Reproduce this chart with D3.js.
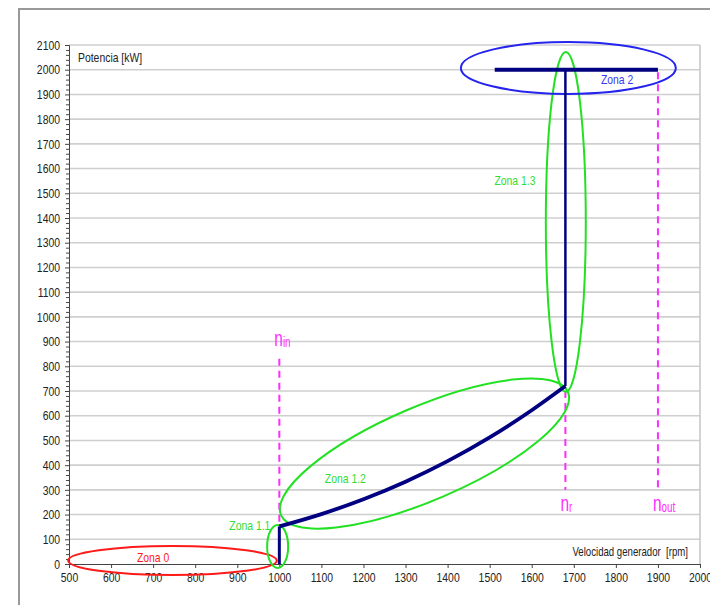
<!DOCTYPE html>
<html><head><meta charset="utf-8">
<script src="https://cdn.jsdelivr.net/npm/d3@7"></script>
<style>body{margin:0;background:#fff}svg{display:block}text{font-family:"Liberation Sans",Arial,sans-serif;white-space:pre}</style>
</head><body><div id="c"></div>
<script>
// ---- data ----
const xTicks = [500,600,700,800,900,1000,1100,1200,1300,1400,1500,1600,1700,1800,1900,2000];
const yTicks = [0,100,200,300,400,500,600,700,800,900,1000,1100,1200,1300,1400,1500,1600,1700,1800,1900,2000,2100];
// power curve (rpm, kW)
const curveRpm = [1000,1000,1100,1200,1300,1400,1500,1600,1680,1680];
const curveKw  = [0,152,202,262,333,416,512,622,720,2000];
const ratedRpm = [1512,1900];
const ratedKw  = [2000,2000];
// marker lines
const markerNames = ["in","r","out"];
const markerRpm = [1000,1680,1900];
const markerTop = [830,700,1990];
const markerBottom = [150,300,300];
// zones: center rpm, center kW, semi-axis rpm, semi-axis kW
const zoneNames = ["Zona 0","Zona 1.1","Zona 1.3","Zona 2"];
const zoneCx = [746,996,1681,1687];
const zoneCy = [14,71,1384,2007];
const zoneRx = [248,25,47.5,255.5];
const zoneRy = [59,87,688,105];
// rotated zone 1.2: tip points (rpm,kW)
const zone12Tips = [[1004,198],[1686,696]];
const zoneLabels = ["Zona 0","Zona 1.1","Zona 1.2","Zona 1.3","Zona 2"];
const zoneLabelRpm = [700,930,1157,1560,1803];
const zoneLabelKw = [28,154,348,1550,1962];

const W=710,H=605;
const svg=d3.select("#c").append("svg").attr("width",W).attr("height",H);
const x=d3.scaleLinear().domain([500,2000]).range([69,700]);
const y=d3.scaleLinear().domain([0,2100]).range([564,45]);
function narrow(sel,f){sel.each(function(){const l=this.getComputedTextLength();
  d3.select(this).attr("textLength",l*f).attr("lengthAdjust","spacingAndGlyphs");});}

// outer frame
svg.append("path").attr("d","M19,605 L19,9 L712,9").attr("fill","none").attr("stroke","#999").attr("stroke-width",2);

// grid
svg.append("g").selectAll("line").data(yTicks.slice(1)).join("line")
  .attr("x1",x(500)).attr("x2",x(2000)).attr("y1",d=>y(d)).attr("y2",d=>y(d))
  .attr("stroke","#cfcfcf").attr("stroke-width",1.6);
svg.append("line").attr("x1",x(2000)).attr("x2",x(2000)).attr("y1",y(2100)).attr("y2",y(0))
  .attr("stroke","#c8c8c8").attr("stroke-width",1.6);

// axes
const xa=svg.append("g").attr("transform",`translate(0,${y(0)})`)
  .call(d3.axisBottom(x).tickValues(xTicks).tickSize(4).tickPadding(5).tickFormat(d3.format("d")));
const ya=svg.append("g").attr("transform",`translate(${x(500)},0)`)
  .call(d3.axisLeft(y).tickValues(yTicks).tickSize(4).tickPadding(5).tickFormat(d3.format("d")));
const yMinor=d3.range(0,2100,20).filter(v=>v%100!==0);
svg.append("g").attr("transform",`translate(${x(500)},0)`)
  .call(d3.axisLeft(y).tickValues(yMinor).tickSize(3).tickFormat(""))
  .call(g=>g.select(".domain").remove());
[xa,ya].forEach(g=>{g.selectAll("text").attr("font-size",13).attr("fill","#222");
  g.selectAll("line,path").attr("stroke","#444");});
svg.selectAll(".tick line").attr("stroke","#444");
narrow(xa.selectAll("text"),0.8);
narrow(ya.selectAll("text"),0.8);

// axis titles
narrow(svg.append("text").attr("x",78).attr("y",62).attr("font-size",13).attr("fill","#222").text("Potencia [kW]"),0.8);
narrow(svg.append("text").attr("x",688).attr("y",556).attr("text-anchor","end").attr("font-size",13).attr("fill","#222").text("Velocidad generador  [rpm]"),0.74);

// marker dashed lines
const magenta="#ff2bff";
markerRpm.forEach((r,i)=>{
  svg.append("line").attr("x1",x(r)).attr("x2",x(r)).attr("y1",y(markerTop[i])).attr("y2",y(markerBottom[i]))
    .attr("stroke",magenta).attr("stroke-width",2).attr("stroke-dasharray","7,5");
});
// marker labels
const mLabelKw=[882,216,216];
markerNames.forEach((n,i)=>{
  const g=svg.append("g").attr("transform",`translate(${x(markerRpm[i])-5},${y(mLabelKw[i])}) scale(0.7,1)`);
  const t=g.append("text").attr("fill",magenta);
  t.append("tspan").attr("font-size",22).text("n");
  t.append("tspan").attr("font-size",14).attr("dy",1).text(n);
});

// zones
const green="#22e022";
const zoneColors=["#ff1a1a",green,green,"#2424ee"];
zoneNames.forEach((z,i)=>{
  svg.append("ellipse").attr("cx",x(zoneCx[i])).attr("cy",y(zoneCy[i]))
    .attr("rx",x(zoneCx[i]+zoneRx[i])-x(zoneCx[i])).attr("ry",y(zoneCy[i])-y(zoneCy[i]+zoneRy[i]))
    .attr("fill","none").attr("stroke",zoneColors[i]).attr("stroke-width",2);
});
{
  const [a,b]=zone12Tips;
  const x1=x(a[0]),y1=y(a[1]),x2=x(b[0]),y2=y(b[1]);
  const cx=(x1+x2)/2,cy=(y1+y2)/2,len=Math.hypot(x2-x1,y2-y1)/2;
  const ang=Math.atan2(y2-y1,x2-x1)*180/Math.PI;
  svg.append("ellipse").attr("cx",cx).attr("cy",cy).attr("rx",len).attr("ry",len*0.3)
    .attr("transform",`rotate(${ang},${cx},${cy})`)
    .attr("fill","none").attr("stroke",green).attr("stroke-width",2);
}

// power curve
const line=d3.line().x(d=>x(d[0])).y(d=>y(d[1])).curve(d3.curveLinear);
const pts=curveRpm.map((r,i)=>[r,curveKw[i]]);
svg.append("path").attr("d",line(pts.slice(0,2))).attr("fill","none").attr("stroke","#000080").attr("stroke-width",3);
svg.append("path").attr("d",d3.line().x(d=>x(d[0])).y(d=>y(d[1])).curve(d3.curveMonotoneX)(pts.slice(1,9)))
  .attr("fill","none").attr("stroke","#000080").attr("stroke-width",3.8);
svg.append("path").attr("d",line(pts.slice(8))).attr("fill","none").attr("stroke","#000080").attr("stroke-width",2.5);
svg.append("path").attr("d",line(ratedRpm.map((r,i)=>[r,ratedKw[i]]))).attr("fill","none").attr("stroke","#000080").attr("stroke-width",4);

// zone labels
const labelColors=["#ff1a1a","#33dd33","#33dd33","#33dd33","#3a3af0"];
zoneLabels.forEach((z,i)=>{
  narrow(svg.append("text").attr("x",x(zoneLabelRpm[i])).attr("y",y(zoneLabelKw[i])).attr("dy","0.35em")
    .attr("text-anchor","middle").attr("font-size",13).attr("fill",labelColors[i]).text(z),0.8);
});
</script></body></html>
